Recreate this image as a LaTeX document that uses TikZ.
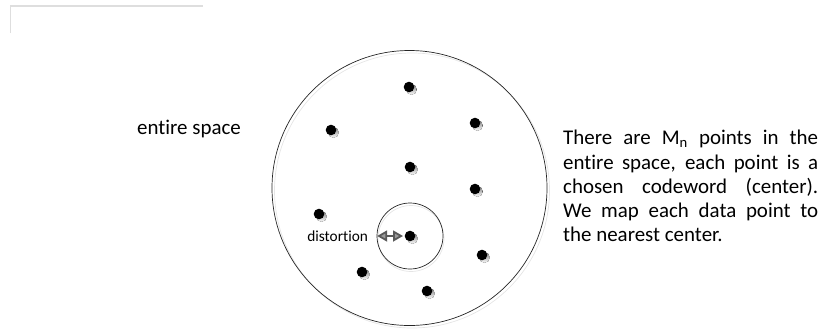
\documentclass[tikz,border=0pt]{standalone}
\usepackage{fontspec}
\setmainfont{Carlito}[Ligatures={NoCommon}]
\usetikzlibrary{arrows.meta,positioning}
\definecolor{shade}{HTML}{D0D0D0}
\definecolor{tipgray}{HTML}{9A9A9A}

\begin{document}
\begin{tikzpicture}[x=1bp,y=-1bp,
   pt/.style={circle,fill=black,inner sep=0pt,minimum size=10.6bp},
   ring/.style={circle,draw=black!85,line width=0.7bp,inner sep=0pt},
   txt/.style={inner sep=0pt,font=\fontsize{21}{24.4}\selectfont},
   gap/.style={draw=black!65,line width=1.8bp,
               {Triangle[fill=tipgray,length=10bp,width=11bp]}-{Triangle[fill=tipgray,length=10bp,width=11bp]}}]
  \useasboundingbox (0,0) rectangle (820,330);
  % faint frame corner
  \draw[black!13,line width=1.2bp] (10.5,33) -- (10.5,6) -- (203,6);
  % the whole space
  \draw[black!10,line width=0.7bp] (412,190.5) circle (137.5);
  \node[ring,minimum size=275bp] (space) at (409.5,188) {};
  % codewords, with their shadows
  \foreach \px/\py [count=\i] in {409/87,331/130,475/123,410/167,475/189,
                                   319/214,410/236,482/255,362/272,427/291}{
    \fill[shade] (\px+2.5,\py+2.5) circle (5.3);
    \node[pt] (c\i) at (\px,\py) {};
  }
  % cell of the center c7
  \draw[black!10,line width=0.7bp] (411,238.5) circle (33);
  \node[ring,minimum size=66bp] (cell) at (c7) {};
  \draw[gap] ([xshift=0.5bp]cell.west) -- ([xshift=-1.5bp]c7.west);
  \node[txt,font=\fontsize{15.4}{18}\selectfont,left=8.5bp of cell.west] (dist) {distortion};
  \node[txt,anchor=base west] (lab) at (137,134) {entire space};
  \node[txt,anchor=north west,text width=255bp,align=justify] (note) at (563,130)
    {There are M\textsubscript{n} points in the\linebreak
     entire space, each point is a\linebreak
     chosen codeword (center).\linebreak
     We map each data point to\linebreak
     the nearest center.};
\end{tikzpicture}
\end{document}
